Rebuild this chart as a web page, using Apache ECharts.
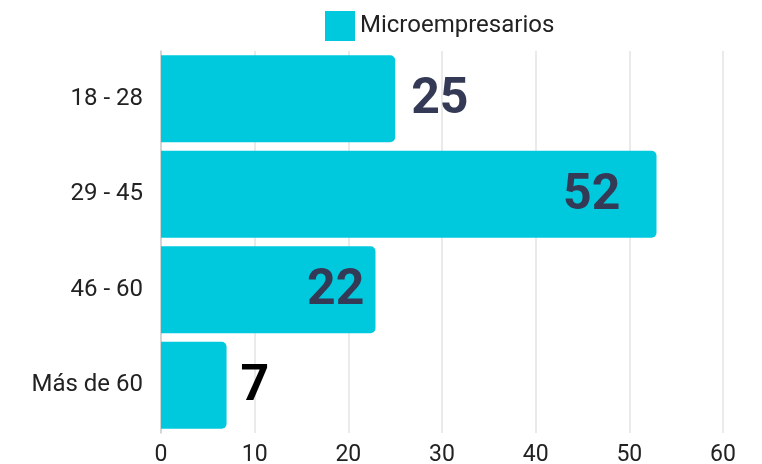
<!DOCTYPE html>
<html>
<head>
<meta charset="utf-8">
<script src="https://cdn.jsdelivr.net/npm/echarts@6/dist/echarts.min.js"></script>
<style>html,body{margin:0;padding:0;background:#fff;}#c{width:762px;height:464px;}</style>
</head>
<body>
<div id="c"></div>
<script>
var categories = ["18 - 28", "29 - 45", "46 - 60", "Más de 60"];
var values = [25, 52.9, 22.9, 7];
var labelTexts = ["25", "52", "22", "7"];
var seriesName = "Microempresarios";
var xTicks = [0, 10, 20, 30, 40, 50, 60];

var labelStyles = [
  {position: "right", distance: 16, offset: [0, 2], color: "#343a56"},
  {position: "insideRight", offset: [-31, 2], color: "#343a56"},
  {position: "insideRight", offset: [-6, 2], color: "#343a56"},
  {position: "right", distance: 14, offset: [0, 2], color: "#000000"}
];

var chart = echarts.init(document.getElementById("c"));
chart.setOption({
  animation: false,
  textStyle: {fontFamily: "Roboto"},
  legend: {
    data: [seriesName],
    left: 320, top: 6,
    itemWidth: 30, itemHeight: 30, itemGap: 8,
    icon: "rect",
    textStyle: {fontSize: 24, color: "#222", fontFamily: "Roboto"}
  },
  grid: {left: 161, right: 39, top: 51, bottom: 31, containLabel: false, outerBoundsMode: "none"},
  xAxis: {
    type: "value", min: xTicks[0], max: xTicks[xTicks.length - 1], interval: 10,
    axisLine: {show: false}, axisTick: {show: false},
    splitLine: {show: true, lineStyle: {color: "#e3e3e3", width: 1.5}},
    axisLabel: {fontSize: 23, color: "#222", margin: 11, fontFamily: "Roboto"}
  },
  yAxis: {
    type: "category", data: categories, inverse: true,
    axisLine: {show: true, lineStyle: {color: "#cccccc", width: 1.5}},
    axisTick: {show: false},
    axisLabel: {fontSize: 24, color: "#222", margin: 18, padding: [3, 0, 0, 0], fontFamily: "Roboto"}
  },
  series: [{
    name: seriesName, type: "bar",
    barCategoryGap: "9%",
    itemStyle: {color: "#00C9DD", borderRadius: [0, 5, 5, 0]},
    data: values.map(function (v, i) {
      var s = labelStyles[i];
      return {
        value: v,
        label: {
          show: true, position: s.position, distance: s.distance, offset: s.offset,
          formatter: labelTexts[i],
          fontSize: 50, fontWeight: "bold", color: s.color, fontFamily: "Roboto"
        }
      };
    })
  }]
});
</script>
</body>
</html>
